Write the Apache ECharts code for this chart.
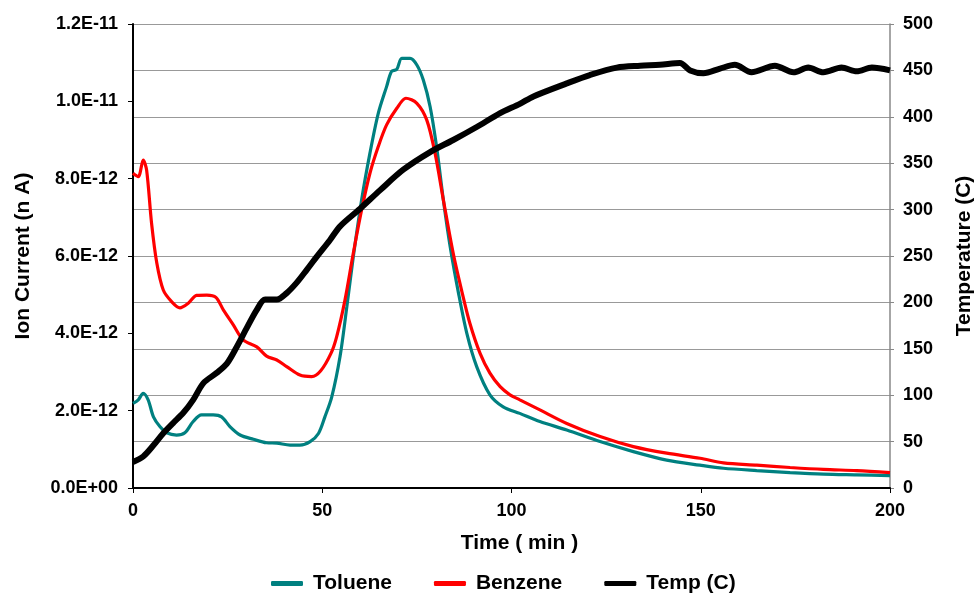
<!DOCTYPE html>
<html>
<head>
<meta charset="utf-8">
<script src="https://cdn.jsdelivr.net/npm/echarts@6/dist/echarts.min.js"></script>
<style>html,body{margin:0;padding:0;background:#fff}#c{width:978px;height:597px}</style>
</head>
<body>
<div id="c"></div>
<script>
// Ion current values are in units of 1E-12 A
const CURRENT_UNIT = 1e-12;

const tolueneTime = [0,1.4,2.7,4.0,5.4,7.1,8.9,11.5,13.7,15.9,18.1,21.2,23.4,25.6,28.3,31.8,35.3,38.0,41.5,44.1,46.8,49.0,50.7,52.5,54.7,56.5,58.2,60.4,62.6,64.8,67.0,68.3,69.7,71.0,73.2,75.0,76.7,78.5,80.2,82.0,83.8,86.0,88.2,90.8,94.3,97.8,102.2,107.5,114.6,123.4,132.2,141.0,149.8,156,164.8,173.6,182.4,191.2,200];
const tolueneValues = [2.19,2.28,2.45,2.28,1.84,1.59,1.43,1.37,1.43,1.72,1.89,1.89,1.84,1.59,1.37,1.26,1.17,1.16,1.11,1.11,1.20,1.41,1.84,2.35,3.40,4.69,5.98,7.45,8.66,9.69,10.38,10.77,10.83,11.11,11.11,10.94,10.55,9.86,8.83,7.45,6.24,5.04,4.00,3.14,2.41,2.10,1.93,1.72,1.50,1.20,0.94,0.72,0.59,0.51,0.45,0.40,0.36,0.34,0.32];

const benzeneTime = [0,1.4,2.7,3.6,4.9,6.3,8.0,10.2,12.4,14.6,16.8,19.5,21.9,23.9,26.5,29.1,32.7,35.3,38.0,40.6,44.1,47.2,49.6,52.3,53.8,56.0,58.2,60.4,62.6,64.8,67.0,69.7,72.1,75.0,77.6,79.8,82.0,84.6,86.8,89.0,91.7,94.3,97.0,99.6,102.2,107.5,114.6,123.4,132.2,141.0,149.8,156,164.8,173.6,182.4,191.2,200];
const benzeneValues = [8.14,8.05,8.48,8.22,6.85,5.81,5.12,4.82,4.66,4.78,4.98,4.99,4.93,4.60,4.22,3.83,3.65,3.41,3.31,3.14,2.92,2.88,3.03,3.48,3.91,4.86,6.07,7.19,8.14,8.83,9.39,9.82,10.08,9.95,9.52,8.66,7.45,6.07,5.12,4.26,3.48,2.97,2.62,2.41,2.28,2.02,1.67,1.33,1.07,0.90,0.77,0.65,0.59,0.53,0.48,0.45,0.40];

const tempTime = [0,2.7,5.4,8.0,10.6,13.3,15.9,18.6,22.1,24.8,27.4,30.0,32.7,34.9,38.0,40.6,43.2,45.9,48.5,52.0,54.7,60.0,65.3,71.4,78.5,84.6,90.8,97.0,102.2,105.8,114.6,120.7,127.8,134.0,139.2,144.5,147.2,150.7,155.1,159.0,163.4,169.6,174.5,178.4,182.4,187.2,191.2,195.2,200];
const tempValues = [28,34,46,59,70,81,95,113,124,134,152,172,192,203,203,210,221,235,249,267,282,301,321,343,362,375,389,404,414,422,436,445,453,455,456,458,450,447,452,456,448,455,448,453,448,453,449,453,450];

const seriesNames = ['Toluene','Benzene','Temp (C)'];

function pairs(xs, ys){ return xs.map((x,i)=>[x, ys[i]]); }
function sciLabel(v){
  const s = (v*CURRENT_UNIT).toExponential(1).toUpperCase();
  const m = s.match(/^(.*)E([+-])(\d+)$/);
  return m[1] + 'E' + m[2] + (m[3].length < 2 ? '0' + m[3] : m[3]);
}

const FONT = '"Liberation Sans", Arial, sans-serif';
const TICK = { fontFamily: FONT, fontWeight: 'bold', fontSize: 18, color: '#000' };
const TITLE = { fontFamily: FONT, fontWeight: 'bold', fontSize: 21, color: '#000' };
const chart = echarts.init(document.getElementById('c'));
chart.setOption({
  animation: false,
  backgroundColor: '#fff',
  textStyle: { fontFamily: FONT },
  grid: { left: 133, right: 88, top: 24, bottom: 109, containLabel: false, outerBoundsMode: 'none' },
  legend: {
    left: 266, top: 568,
    itemWidth: 32, itemHeight: 5, itemGap: 42,
    icon: 'roundRect',
    textStyle: { fontFamily: FONT, fontWeight: 'bold', fontSize: 21, color: '#000', padding: [0, 0, 0, 5] },
    data: seriesNames
  },
  xAxis: {
    type: 'value', min: 0, max: 200, interval: 50,
    name: 'Time ( min )', nameLocation: 'middle', nameGap: 45,
    nameTextStyle: Object.assign({ padding: [0, 0, 0, 16] }, TITLE),
    axisLine: { show: true, onZero: false, lineStyle: { color: '#000', width: 2 } },
    axisTick: { show: true, inside: false, length: 5, lineStyle: { color: '#000' } },
    axisLabel: Object.assign({ margin: 14 }, TICK),
    splitLine: { show: false }
  },
  yAxis: [
    {
      type: 'value', min: 0, max: 12, interval: 2, position: 'left',
      name: 'Ion Current (n A)', nameLocation: 'middle', nameGap: 99, nameRotate: 90,
      nameTextStyle: TITLE,
      axisLine: { show: true, lineStyle: { color: '#000', width: 2 } },
      axisTick: { show: true, inside: false, length: 5, lineStyle: { color: '#000' } },
      axisLabel: Object.assign({ margin: 15, formatter: sciLabel }, TICK),
      splitLine: { show: false }
    },
    {
      type: 'value', min: 0, max: 500, interval: 50, position: 'right',
      name: 'Temperature (C)', nameLocation: 'middle', nameGap: 64, nameRotate: 90,
      nameTextStyle: TITLE,
      axisLine: { show: true, lineStyle: { color: '#888', width: 1.5 } },
      axisTick: { show: true, inside: false, length: 4, lineStyle: { color: '#888' } },
      axisLabel: Object.assign({ margin: 13 }, TICK),
      splitLine: { show: true, lineStyle: { color: '#999', width: 1.2 } }
    }
  ],
  series: [
    { name: seriesNames[0], type: 'line', yAxisIndex: 0, data: pairs(tolueneTime, tolueneValues), smooth: 0.3, showSymbol: false, symbol: 'none', color: '#008080', lineStyle: { width: 3.2, color: '#008080' }, z: 3 },
    { name: seriesNames[1], type: 'line', yAxisIndex: 0, data: pairs(benzeneTime, benzeneValues), smooth: 0.3, showSymbol: false, symbol: 'none', color: '#ff0000', lineStyle: { width: 3.2, color: '#ff0000' }, z: 4 },
    { name: seriesNames[2], type: 'line', yAxisIndex: 1, data: pairs(tempTime, tempValues), smooth: 0.3, showSymbol: false, symbol: 'none', color: '#000000', lineStyle: { width: 6, color: '#000' }, z: 5 }
  ]
});
</script>
</body>
</html>
